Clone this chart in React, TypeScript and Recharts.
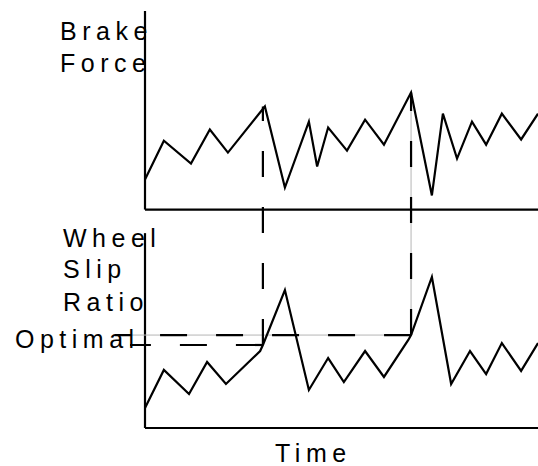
import { Line, LineChart, ReferenceLine, XAxis, YAxis } from "recharts";

// time runs 0..100 along both panels
const forceTimes = [0, 4.8, 11.7, 16.5, 21.1, 30.5, 35.6, 41.7, 43.8, 46.6, 51.4, 56.0, 60.8, 67.7, 73.0, 75.8, 79.4, 83.2, 86.8, 90.8, 95.7, 100];
const forceValues = [15.1, 34.7, 23.2, 40.3, 28.7, 51.9, 11.1, 44.3, 21.7, 41.3, 29.7, 45.3, 32.7, 58.9, 7.1, 48.3, 25.7, 44.3, 32.7, 48.3, 35.3, 48.3];

const slipTimes = [0, 4.8, 11.2, 15.8, 20.6, 29.3, 30, 35.6, 41.7, 46.6, 50.6, 56.0, 60.8, 67.0, 67.7, 73.0, 77.9, 82.7, 86.8, 90.8, 95.7, 100];
const slipValues = [10.3, 29.8, 17.4, 33.9, 22.6, 39.5, 42.6, 70.8, 19.5, 35.9, 23.6, 39.5, 26.2, 45.2, 47.7, 77.5, 22.6, 39.5, 27.7, 43.6, 29.3, 43.6];

// two "optimal" slip levels and where their guide lines start on the left
const optimalLevels = [42.6, 47.7];
const optimalStarts = [-3.8, -7.6];

// brake events: time, brake force peak, slip level reached
const eventTimes = [30, 67.7];
const eventForces = [51.9, 58.9];
const eventSlips = [42.6, 47.7];

// both panels share one plot area; each y axis gets its own band
const FORCE_DOMAIN: [number, number] = [-110, 100];
const SLIP_DOMAIN: [number, number] = [0, 214];

const forceData = forceTimes.map((t, i) => ({ t, v: forceValues[i] }));
const slipData = slipTimes.map((t, i) => ({ t, v: slipValues[i] }));

const forceToSlip = (f: number) =>
  SLIP_DOMAIN[0] +
  ((SLIP_DOMAIN[1] - SLIP_DOMAIN[0]) * (f - FORCE_DOMAIN[0])) / (FORCE_DOMAIN[1] - FORCE_DOMAIN[0]);

const DASH = "27 29";
const font = { fontFamily: "'Liberation Sans', Arial, sans-serif", fontSize: 25, letterSpacing: 5.5 };

export default function App() {
  return (
    <div style={{ position: "absolute", left: 0, top: 0, width: 538, height: 466 }}>
      <LineChart width={538} height={466} margin={{ top: 11, right: 0, bottom: 38, left: 145 }}>
        <XAxis type="number" dataKey="t" domain={[0, 100]} hide />
        <YAxis yAxisId="force" hide domain={FORCE_DOMAIN} />
        <YAxis yAxisId="slip" hide domain={SLIP_DOMAIN} />

        {/* axes of both panels */}
        <ReferenceLine yAxisId="force" y={0} stroke="#000" strokeWidth={2.2} />
        <ReferenceLine yAxisId="force" segment={[{ x: 0, y: 0 }, { x: 0, y: 100 }]} stroke="#000" strokeWidth={2.2} />
        <ReferenceLine yAxisId="slip" y={0} stroke="#000" strokeWidth={2.2} />
        <ReferenceLine yAxisId="slip" segment={[{ x: 0, y: 0 }, { x: 0, y: 100 }]} stroke="#000" strokeWidth={2.2} />

        {/* upper optimal level: faint guide + dashes */}
        <ReferenceLine
          yAxisId="slip"
          ifOverflow="visible"
          segment={[{ x: eventTimes[1], y: optimalLevels[1] }, { x: optimalStarts[1], y: optimalLevels[1] }]}
          stroke="#b5b5b5"
          strokeWidth={1}
        />
        <ReferenceLine
          yAxisId="slip"
          ifOverflow="visible"
          segment={[{ x: eventTimes[1], y: optimalLevels[1] }, { x: optimalStarts[1], y: optimalLevels[1] }]}
          stroke="#000"
          strokeWidth={2.2}
          strokeDasharray={DASH}
        />
        <ReferenceLine
          yAxisId="slip"
          ifOverflow="visible"
          segment={[{ x: eventTimes[0], y: optimalLevels[0] }, { x: optimalStarts[0], y: optimalLevels[0] }]}
          stroke="#000"
          strokeWidth={2.2}
          strokeDasharray={DASH}
        />

        {/* vertical links from force peak to slip level */}
        <ReferenceLine
          yAxisId="slip"
          segment={[{ x: eventTimes[1], y: eventSlips[1] }, { x: eventTimes[1], y: forceToSlip(eventForces[1]) }]}
          stroke="#b5b5b5"
          strokeWidth={1}
        />
        {eventTimes.map((t, i) => (
          <ReferenceLine
            key={t}
            yAxisId="slip"
            segment={[{ x: t, y: eventSlips[i] }, { x: t, y: forceToSlip(eventForces[i]) }]}
            stroke="#000"
            strokeWidth={2.2}
            strokeDasharray="26 30"
          />
        ))}

        <Line
          yAxisId="force"
          data={forceData}
          dataKey="v"
          type="linear"
          stroke="#000"
          strokeWidth={2.2}
          dot={false}
          isAnimationActive={false}
        />
        <Line
          yAxisId="slip"
          data={slipData}
          dataKey="v"
          type="linear"
          stroke="#000"
          strokeWidth={2.2}
          dot={false}
          isAnimationActive={false}
        />
      </LineChart>

      <svg
        width={538}
        height={466}
        style={{ position: "absolute", left: 0, top: 0, pointerEvents: "none" }}
      >
        <g fill="#000" style={font}>
          <text x={60} y={40}>Brake</text>
          <text x={60} y={72}>Force</text>
          <text x={63} y={247}>Wheel</text>
          <text x={63} y={278}>Slip</text>
          <text x={63} y={311}>Ratio</text>
          <text x={15} y={348}>Optimal</text>
          <text x={275} y={462}>Time</text>
        </g>
      </svg>
    </div>
  );
}
